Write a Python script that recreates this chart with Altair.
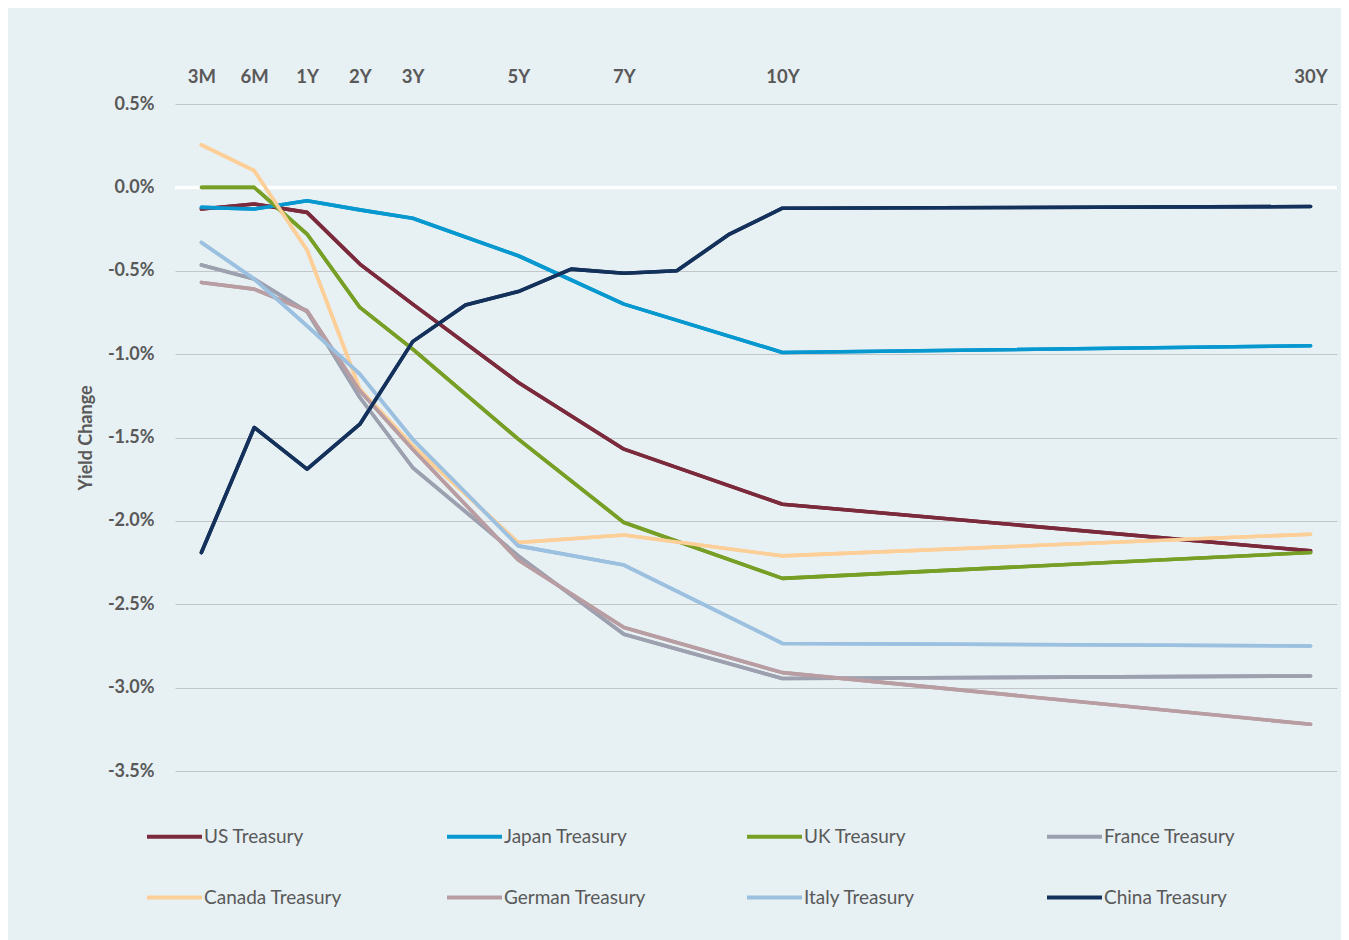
import altair as alt
import pandas as pd

# ---- data ----
series = ["US Treasury", "Japan Treasury", "UK Treasury", "France Treasury",
          "Canada Treasury", "German Treasury", "Italy Treasury", "China Treasury"]
colors = ["#7B2A3C", "#0898D0", "#779F26", "#9DA1AF",
          "#FDCF98", "#B89DA2", "#9CC0DF", "#13315A"]

tenors = ["3M", "6M", "1Y", "2Y", "3Y", "4Y", "5Y", "6Y", "7Y", "8Y", "9Y", "10Y", "30Y"]
slots = [0, 1, 2, 3, 4, 5, 6, 7, 8, 9, 10, 11, 21]
shown_tenors = ["3M", "6M", "1Y", "2Y", "3Y", "5Y", "7Y", "10Y", "30Y"]

us = [-0.13, -0.10, -0.15, -0.46, -0.70, None, -1.17, None, -1.57, None, None, -1.90, -2.18]
japan = [-0.12, -0.13, -0.08, -0.135, -0.185, None, -0.41, None, -0.70, None, None, -0.99, -0.95]
uk = [0.0, 0.0, -0.28, -0.72, -0.97, None, -1.51, None, -2.01, None, None, -2.345, -2.19]
france = [-0.465, -0.55, -0.745, -1.26, -1.68, None, -2.21, None, -2.68, None, None, -2.945, -2.93]
canada = [0.255, 0.10, -0.375, -1.21, -1.55, None, -2.13, None, -2.085, None, None, -2.21, -2.08]
german = [-0.57, -0.61, -0.74, -1.22, -1.57, None, -2.235, None, -2.64, None, None, -2.91, -3.22]
italy = [-0.33, -0.55, -0.83, -1.12, -1.51, None, -2.15, None, -2.265, None, None, -2.735, -2.75]
china = [-2.19, -1.44, -1.69, -1.42, -0.925, -0.705, -0.625, -0.49, -0.515, -0.50, -0.28, -0.125, -0.115]

y_ticks = [0.5, 0.0, -0.5, -1.0, -1.5, -2.0, -2.5, -3.0, -3.5]

# ---- build table ----
rows = []
for name, vals in zip(series, [us, japan, uk, france, canada, german, italy, china]):
    for t, s, v in zip(tenors, slots, vals):
        if v is not None:
            rows.append({"series": name, "tenor": t, "slot": s, "value": v})
df = pd.DataFrame(rows)

shown_slots = [slots[tenors.index(t)] for t in shown_tenors]
label_expr = "".join(f"datum.value == {s} ? '{t}' : " for s, t in zip(shown_slots, shown_tenors)) + "''"
y_label_expr = "datum.value < 0 ? '-' + format(-datum.value, '.1f') + '%' : format(datum.value, '.1f') + '%'"

TEXT = "#595959"
FONT = "Lato"

x_enc = alt.X("slot:Q",
              scale=alt.Scale(domain=[-0.5, 21.5], nice=False, zero=False),
              axis=alt.Axis(orient="top", values=shown_slots, labelExpr=label_expr,
                            title=None, grid=False, domain=False, ticks=False, tickSize=0,
                            labelFont=FONT, labelFontSize=18.5, labelFontWeight="bold",
                            labelColor=TEXT, labelPadding=18))
y_enc = alt.Y("value:Q",
              scale=alt.Scale(domain=[-3.5, 0.5], nice=False, zero=False),
              axis=alt.Axis(values=y_ticks, labelExpr=y_label_expr,
                            title="Yield Change", titleFont=FONT, titleFontSize=18,
                            titleFontWeight="bold", titleColor=TEXT,
                            titleX=-89, titleBaseline="middle",
                            grid=True, gridColor="#C3C6C8", gridWidth=1.2,
                            domain=False, ticks=False, tickSize=0,
                            labelFont=FONT, labelFontSize=18, labelFontWeight="bold",
                            labelColor=TEXT, labelPadding=21))

zero_df = pd.DataFrame({"zero": [0.0]})
zero_rule = alt.Chart(zero_df).mark_rule(color="white", strokeWidth=3.5).encode(
    y=alt.Y("zero:Q", scale=alt.Scale(domain=[-3.5, 0.5], nice=False, zero=False))
)

lines = alt.Chart(df).mark_line(strokeWidth=3.6, strokeCap="round", strokeJoin="round").encode(
    x=x_enc,
    y=y_enc,
    color=alt.Color("series:N",
                    scale=alt.Scale(domain=series, range=colors),
                    sort=series,
                    legend=alt.Legend(orient="none", legendX=-30, legendY=703,
                                      direction="horizontal", columns=4,
                                      symbolType="stroke", symbolSize=3025,
                                      symbolStrokeWidth=4, labelFont=FONT,
                                      labelFontSize=19, labelColor=TEXT,
                                      title=None, columnPadding=93, rowPadding=21,
                                      gridAlign="all", padding=0, labelOffset=0,
                                      labelLimit=400)),
    order=alt.Order("slot:Q"),
)

chart = alt.layer(lines, zero_rule, lines).resolve_scale(y="shared").properties(
    width=1162, height=667,
    padding={"left": 167, "top": 96, "right": 4, "bottom": 169},
    autosize=alt.AutoSizeParams(type="none"),
    background="#E7F0F3",
).configure_view(stroke=None)

chart.save("out.html", embed_options={"renderer": "svg", "actions": False})
